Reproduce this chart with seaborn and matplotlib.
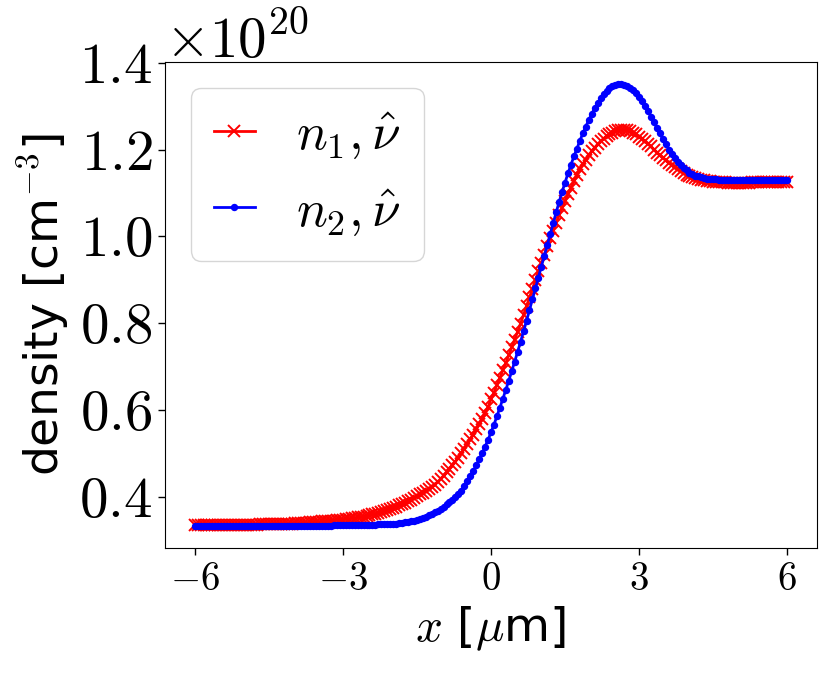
import numpy as np
import matplotlib
matplotlib.use("Agg")
import matplotlib.pyplot as plt
from matplotlib.ticker import MultipleLocator
import seaborn as sns

# sample grid in micrometres (201 points, step 0.06)
x_um = np.linspace(-6, 6, 201)

# densities, in units of 1e20 cm^-3
n1_vals = [
    0.335, 0.335, 0.335, 0.335, 0.335, 0.335, 0.335, 0.335, 0.335, 0.335,
    0.335, 0.335, 0.335, 0.335, 0.335, 0.335, 0.335, 0.335, 0.335, 0.335,
    0.335, 0.335, 0.336, 0.336, 0.336, 0.336, 0.336, 0.337, 0.337, 0.337,
    0.337, 0.338, 0.338, 0.338, 0.339, 0.339, 0.339, 0.340, 0.340, 0.341,
    0.341, 0.342, 0.342, 0.343, 0.343, 0.344, 0.345, 0.345, 0.346, 0.347,
    0.347, 0.348, 0.349, 0.350, 0.351, 0.352, 0.353, 0.354, 0.356, 0.357,
    0.359, 0.361, 0.363, 0.365, 0.367, 0.369, 0.372, 0.374, 0.377, 0.380,
    0.383, 0.386, 0.390, 0.393, 0.397, 0.401, 0.405, 0.409, 0.413, 0.417,
    0.422, 0.428, 0.434, 0.441, 0.448, 0.456, 0.464, 0.472, 0.481, 0.490,
    0.500, 0.510, 0.521, 0.532, 0.543, 0.555, 0.567, 0.580, 0.593, 0.606,
    0.624, 0.640, 0.657, 0.674, 0.691, 0.708, 0.726, 0.744, 0.762, 0.780,
    0.799, 0.819, 0.839, 0.859, 0.879, 0.899, 0.919, 0.939, 0.958, 0.977,
    0.995, 1.013, 1.031, 1.048, 1.065, 1.081, 1.097, 1.112, 1.127, 1.141,
    1.154, 1.166, 1.177, 1.187, 1.196, 1.204, 1.212, 1.219, 1.225, 1.231,
    1.236, 1.239, 1.242, 1.244, 1.245, 1.245, 1.244, 1.242, 1.239, 1.235,
    1.230, 1.225, 1.219, 1.213, 1.207, 1.200, 1.193, 1.187, 1.181, 1.175,
    1.169, 1.164, 1.159, 1.154, 1.150, 1.146, 1.142, 1.139, 1.136, 1.134,
    1.132, 1.130, 1.129, 1.128, 1.127, 1.126, 1.126, 1.125, 1.125, 1.125,
    1.124, 1.124, 1.124, 1.124, 1.124, 1.124, 1.124, 1.124, 1.125, 1.125,
    1.125, 1.125, 1.125, 1.125, 1.125, 1.125, 1.125, 1.125, 1.125, 1.125,
    1.125,
]

n2_vals = [
    0.333, 0.333, 0.333, 0.333, 0.333, 0.333, 0.333, 0.333, 0.333, 0.333,
    0.333, 0.333, 0.333, 0.333, 0.333, 0.333, 0.333, 0.333, 0.333, 0.333,
    0.333, 0.333, 0.333, 0.333, 0.333, 0.333, 0.333, 0.333, 0.333, 0.333,
    0.333, 0.333, 0.333, 0.333, 0.333, 0.333, 0.333, 0.333, 0.333, 0.333,
    0.333, 0.333, 0.333, 0.333, 0.333, 0.333, 0.333, 0.334, 0.334, 0.334,
    0.334, 0.334, 0.334, 0.334, 0.334, 0.334, 0.334, 0.335, 0.335, 0.335,
    0.335, 0.335, 0.336, 0.336, 0.336, 0.337, 0.337, 0.338, 0.338, 0.339,
    0.340, 0.341, 0.342, 0.344, 0.345, 0.347, 0.349, 0.351, 0.354, 0.357,
    0.360, 0.364, 0.368, 0.372, 0.377, 0.382, 0.387, 0.393, 0.399, 0.406,
    0.413, 0.424, 0.435, 0.447, 0.459, 0.472, 0.486, 0.500, 0.515, 0.531,
    0.548, 0.566, 0.585, 0.605, 0.625, 0.646, 0.667, 0.689, 0.711, 0.734,
    0.757, 0.781, 0.805, 0.830, 0.855, 0.880, 0.905, 0.930, 0.955, 0.980,
    1.005, 1.030, 1.055, 1.079, 1.102, 1.124, 1.145, 1.165, 1.184, 1.202,
    1.220, 1.237, 1.253, 1.268, 1.282, 1.295, 1.307, 1.318, 1.327, 1.335,
    1.341, 1.346, 1.349, 1.351, 1.351, 1.349, 1.346, 1.342, 1.337, 1.331,
    1.322, 1.312, 1.301, 1.289, 1.276, 1.263, 1.250, 1.237, 1.224, 1.212,
    1.200, 1.190, 1.180, 1.171, 1.164, 1.157, 1.152, 1.147, 1.143, 1.140,
    1.138, 1.136, 1.134, 1.133, 1.132, 1.131, 1.131, 1.130, 1.130, 1.130,
    1.129, 1.129, 1.129, 1.129, 1.129, 1.129, 1.129, 1.129, 1.129, 1.129,
    1.129, 1.129, 1.129, 1.129, 1.129, 1.129, 1.129, 1.129, 1.129, 1.129,
    1.129,
]

labels = [r"$n_1, \hat{\nu}$", r"$n_2, \hat{\nu}$"]
x_ticks = [-6, -3, 0, 3, 6]

plt.rcParams["font.family"] = ["serif"]
plt.rcParams["font.serif"] = ["cmr10"]
plt.rcParams["mathtext.fontset"] = "cm"
plt.rcParams["axes.formatter.use_mathtext"] = True

fig, ax = plt.subplots(figsize=(8.31, 6.73), dpi=100)
fig.subplots_adjust(left=0.1986, right=0.983, top=0.908, bottom=0.186)

sns.lineplot(x=x_um, y=np.array(n1_vals) * 1e20, ax=ax, color="red",
             marker="x", markersize=8.5, markeredgecolor="red",
             markeredgewidth=1.4, linewidth=2, label=labels[0])
sns.lineplot(x=x_um, y=np.array(n2_vals) * 1e20, ax=ax, color="blue",
             marker=".", markersize=8, markeredgecolor="blue",
             markeredgewidth=1.3, linewidth=2, label=labels[1])

ax.set_xticks(x_ticks)
ax.yaxis.set_major_locator(MultipleLocator(0.2e20))
ax.tick_params(axis="y", labelsize=41, length=5, width=1, pad=4)
ax.tick_params(axis="x", labelsize=28, length=5, width=1, pad=5)
ax.yaxis.get_offset_text().set_fontsize(41)

ax.set_xlabel(r"$x$ [$\mu$m]", fontsize=34, labelpad=5, family="DejaVu Sans")
ax.set_ylabel(r"density [cm$^{-3}$]", fontsize=34, labelpad=6,
              family="DejaVu Sans")

ax.legend(loc="upper left", fontsize=37, handlelength=0.8, handletextpad=0.8,
          borderaxespad=0.5, borderpad=0.45, framealpha=0.8)

fig.savefig("out.png", dpi=100)
